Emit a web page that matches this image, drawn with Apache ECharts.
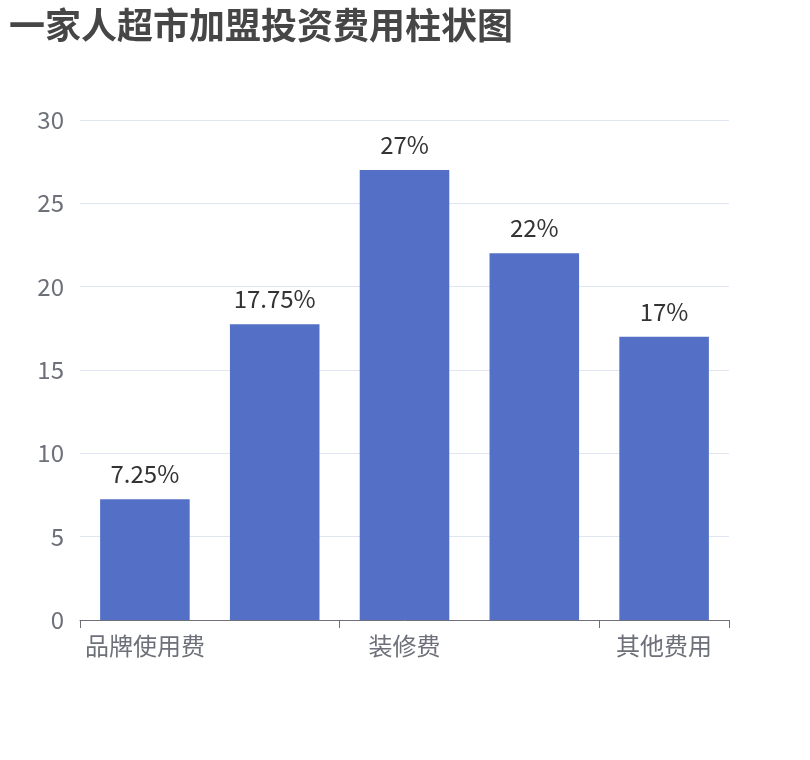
<!DOCTYPE html>
<html>
  <head>
    <meta charset="utf-8" />
    <title>ECharts</title>
    <script src="https://cdn.jsdelivr.net/npm/echarts@6/dist/echarts.min.js"></script>
    <style>
      html, body { margin: 0; padding: 0; background: #fff; }
      #main { width: 810px; height: 760px; }
    </style>
  </head>
  <body>
    <div id="main"></div>
    <script type="text/javascript">
// 数据
let categories = ['品牌使用费', '加盟保证金', '装修费', '设备购置费', '其他费用'];
let values = [7.25, 17.75, 27, 22, 17];
let yTicks = [0, 5, 10, 15, 20, 25, 30];

var myChart = echarts.init(document.getElementById('main'));
var font = '"Noto Sans CJK SC", "Noto Sans", sans-serif';

option = {
  textStyle: { fontFamily: font },
  title: {
    text: '一家人超市加盟投资费用柱状图',
    left: 4,
    top: 2,
    textStyle: {
      fontSize: 36,
      fontWeight: 'bold',
      color: '#464646',
      fontFamily: font
    }
  },
  grid: {
    left: 80,
    right: 81,
    top: 120,
    bottom: 140,
    containLabel: false
  },
  xAxis: {
    type: 'category',
    data: categories,
    axisLine: { lineStyle: { color: '#6e7079' } },
    axisTick: { show: true, length: 8, lineStyle: { color: '#6e7079' } },
    axisLabel: {
      interval: 1,
      fontSize: 24,
      color: '#6e7079',
      margin: 14,
      fontFamily: font
    }
  },
  yAxis: {
    type: 'value',
    min: yTicks[0],
    max: yTicks[yTicks.length - 1],
    interval: 5,
    axisLabel: {
      fontSize: 24,
      color: '#6e7079',
      margin: 16,
      fontFamily: font
    },
    splitLine: { lineStyle: { color: '#e0e6f1' } }
  },
  series: [
    {
      type: 'bar',
      data: values,
      barCategoryGap: '31%',
      itemStyle: { color: '#5470c6' },
      label: {
        show: true,
        position: 'top',
        distance: 13,
        formatter: '{c}%',
        fontSize: 24,
        color: '#333',
        fontFamily: font
      }
    }
  ]
};

myChart.setOption(option);
    </script>
  </body>
</html>
